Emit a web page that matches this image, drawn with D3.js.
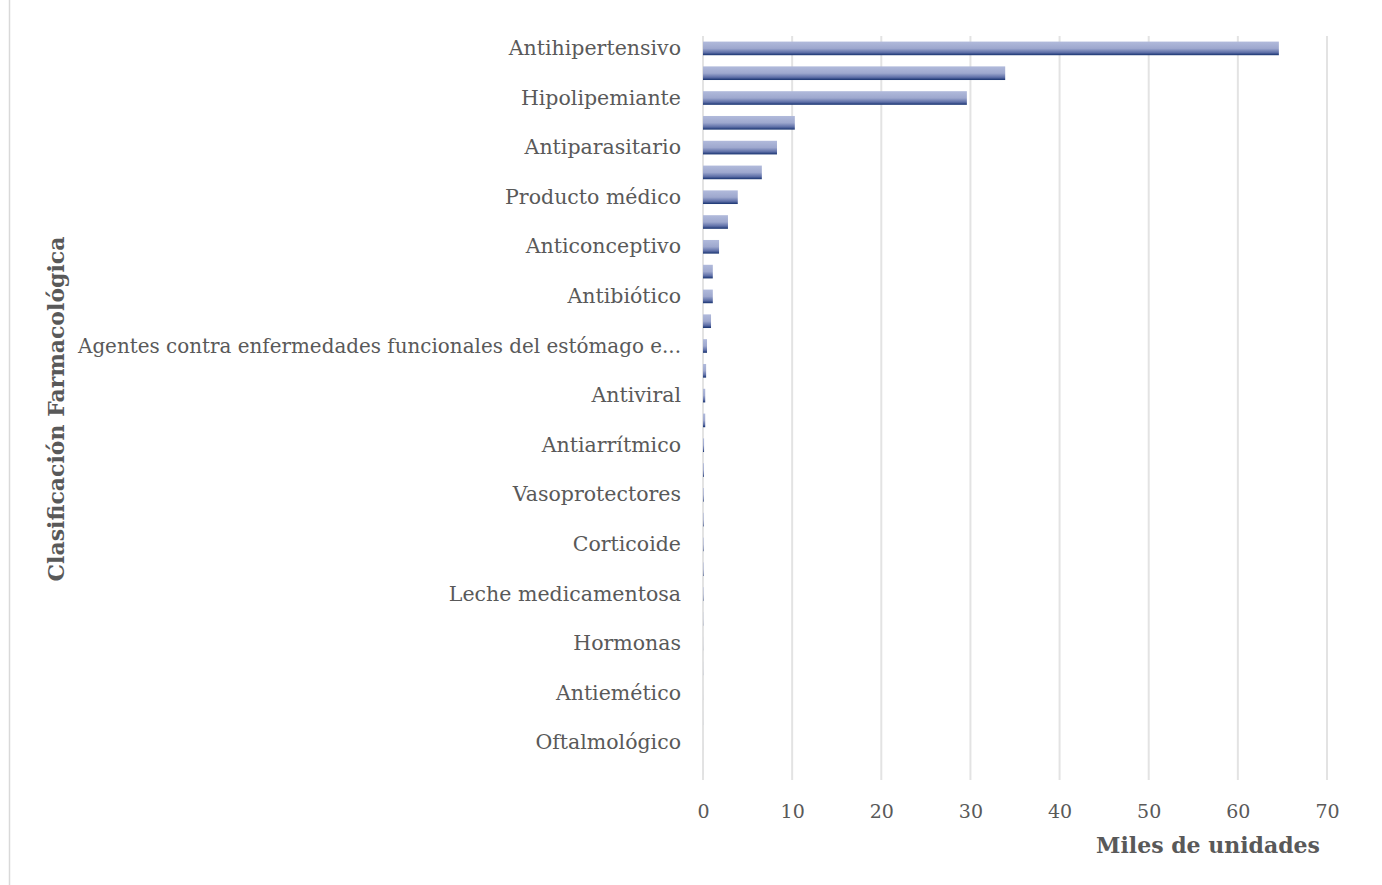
<!DOCTYPE html>
<html>
<head>
<meta charset="utf-8">
<script src="https://cdn.jsdelivr.net/npm/d3@7"></script>
<style>
  body { margin: 0; background: #fff; }
  svg { display: block; }
</style>
</head>
<body>
<div id="chart"></div>
<script>
// categories from top to bottom; only every other one gets a label (like Excel)
var categories = [
  'Antihipertensivo', 'Antidiabético', 'Hipolipemiante', 'Analgésico',
  'Antiparasitario', 'Antiinflamatorio', 'Producto médico', 'Vitaminas',
  'Anticonceptivo', 'Antihistamínico', 'Antibiótico', 'Broncodilatador',
  'Agentes contra enfermedades funcionales del estómago e intestino', 'Antidepresivo',
  'Antiviral', 'Anticoagulante', 'Antiarrítmico', 'Ansiolítico',
  'Vasoprotectores', 'Antiepiléptico', 'Corticoide', 'Diurético',
  'Leche medicamentosa', 'Antimicótico', 'Hormonas', 'Antiséptico',
  'Antiemético', 'Dermatológico', 'Oftalmológico', 'Otros'
];
// miles de unidades
var values = [
  64.6, 33.9, 29.6, 10.3,
  8.3, 6.6, 3.9, 2.8,
  1.8, 1.1, 1.1, 0.9,
  0.45, 0.35, 0.25, 0.25,
  0.12, 0.1, 0.08, 0.07,
  0.06, 0.06, 0.05, 0.02,
  0.01, 0.01, 0.005, 0.005,
  0.003, 0.002
];
var xTicks = [0, 10, 20, 30, 40, 50, 60, 70];

var title = 'Unidades dispensadas según Clasificación Farmacológica';
var xTitle = 'Miles de unidades';
var yTitle = 'Clasificación Farmacológica';

var w = 1382;
var h = 885;
var font = "Georgia, 'DejaVu Serif', serif";
var grey = '#595959';

var svg = d3.select('#chart')
  .append('svg')
  .attr('width', w)
  .attr('height', h);

var defs = svg.append('defs');
var grad = defs.append('linearGradient')
  .attr('id', 'barGrad')
  .attr('x1', 0).attr('y1', 0)
  .attr('x2', 0).attr('y2', 1);
grad.append('stop').attr('offset', '0%').attr('stop-color', '#b1badb');
grad.append('stop').attr('offset', '50%').attr('stop-color', '#9ea8ce');
grad.append('stop').attr('offset', '80%').attr('stop-color', '#5f70a8');
grad.append('stop').attr('offset', '100%').attr('stop-color', '#17326f');

// outer chart border (only the left edge is inside the window)
svg.append('rect')
  .attr('x', 9.5)
  .attr('y', -10)
  .attr('width', w + 20)
  .attr('height', h + 20)
  .attr('fill', 'none')
  .attr('stroke', '#d9d9d9')
  .attr('stroke-width', 1.5);

var x = d3.scaleLinear()
  .domain([0, 70])
  .range([703, 1327]);

var y = d3.scaleBand()
  .domain(categories)
  .range([36, 780])
  .paddingInner(0.45)
  .paddingOuter(0.225);

// grid
svg.append('g')
  .selectAll('line')
  .data(xTicks)
  .enter()
  .append('line')
  .attr('x1', function(d) { return x(d); })
  .attr('x2', function(d) { return x(d); })
  .attr('y1', 36)
  .attr('y2', 780)
  .attr('stroke', '#e3e3e3')
  .attr('stroke-width', 2);

// bars
svg.append('g')
  .selectAll('rect')
  .data(values)
  .enter()
  .append('rect')
  .attr('x', x(0))
  .attr('y', function(d, i) { return y(categories[i]); })
  .attr('width', function(d) { return x(d) - x(0); })
  .attr('height', y.bandwidth())
  .attr('fill', 'url(#barGrad)');

// x axis labels
var xAxis = d3.axisBottom(x)
  .tickValues(xTicks)
  .tickSize(0)
  .tickPadding(0);
var gx = svg.append('g')
  .attr('transform', 'translate(0,' + 818 + ')')
  .call(xAxis);
gx.select('.domain').remove();
gx.selectAll('text')
  .attr('dy', 0)
  .attr('font-family', font)
  .attr('font-size', '19px')
  .attr('fill', grey);

// y axis labels, every second category
var yAxis = d3.axisLeft(y)
  .tickSize(0)
  .tickPadding(0)
  .tickFormat(function(d, i) {
    var s = i % 2 === 0 ? d : '';
    if (s.length > 55) s = s.slice(0, 54) + '...';
    return s;
  });
var gy = svg.append('g')
  .attr('transform', 'translate(' + 681 + ',0)')
  .call(yAxis);
gy.select('.domain').remove();
gy.selectAll('text')
  .attr('font-family', font)
  .attr('font-size', '20.5px')
  .attr('fill', grey)
  .each(function() {
    // keep the long label clear of the axis title
    if (this.getComputedTextLength() > 603) {
      d3.select(this)
        .attr('textLength', 603)
        .attr('lengthAdjust', 'spacingAndGlyphs');
    }
  });

// titles
svg.append('text')
  .attr('x', 1320)
  .attr('y', 853)
  .attr('text-anchor', 'end')
  .attr('font-family', font)
  .attr('font-size', '22px')
  .attr('font-weight', 'bold')
  .attr('fill', grey)
  .text(xTitle);

svg.append('text')
  .attr('transform', 'translate(' + 64 + ',' + 409 + ') rotate(-90)')
  .attr('text-anchor', 'middle')
  .attr('font-family', font)
  .attr('font-size', '22px')
  .attr('font-weight', 'bold')
  .attr('fill', grey)
  .text(yTitle);

// main title sits mostly above the visible area
svg.append('text')
  .attr('x', 820)
  .attr('y', -7)
  .attr('text-anchor', 'middle')
  .attr('font-family', font)
  .attr('font-size', '32px')
  .attr('font-weight', 'bold')
  .attr('fill', grey)
  .text(title);
</script>
</body>
</html>
